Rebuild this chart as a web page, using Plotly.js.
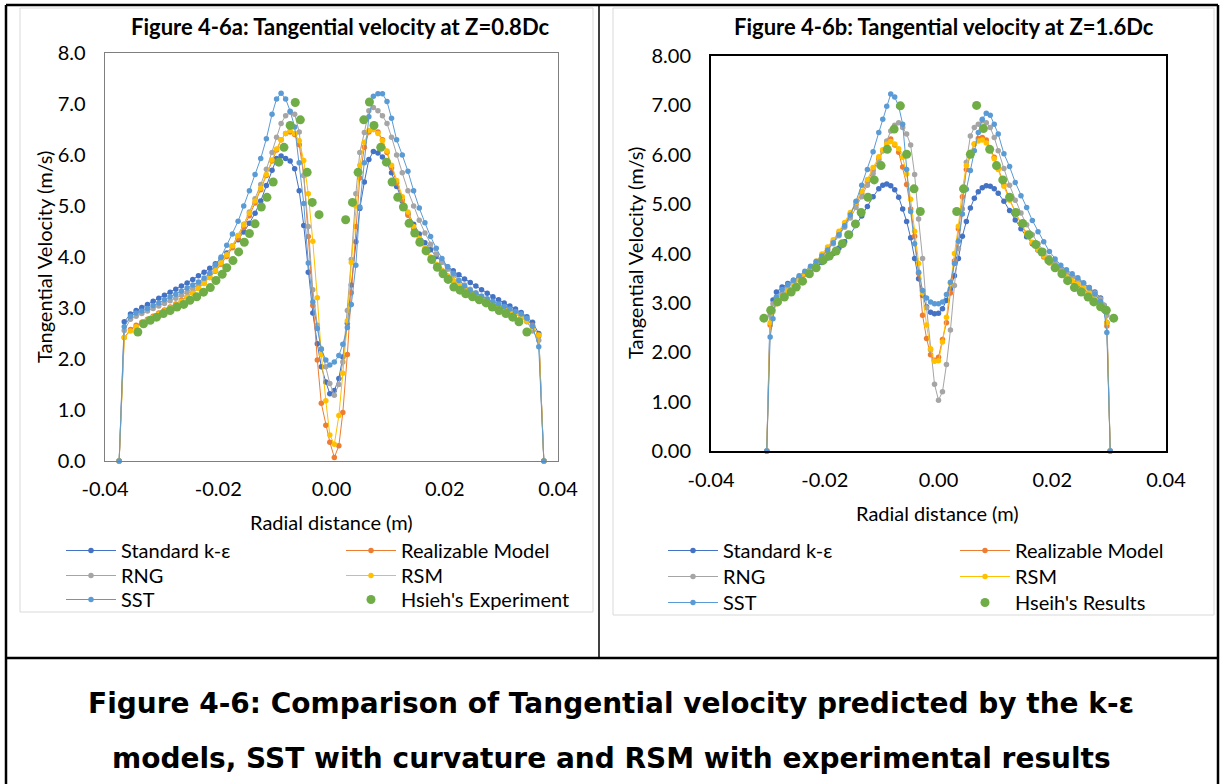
<!DOCTYPE html>
<html><head><meta charset="utf-8">
<script src="https://cdn.plot.ly/plotly-3.0.1.min.js"></script>
<style>html,body{margin:0;padding:0;background:#fff;}#chart{width:1221px;height:784px;}</style>
</head><body><div id="chart"></div>
<script>
// ---------------- DATA ----------------
const xTickVals = [-0.04, -0.02, 0, 0.02, 0.04];
const xTickText = ["-0.04", "-0.02", "0.00", "0.02", "0.04"];
const yTickVals = [0, 1, 2, 3, 4, 5, 6, 7, 8];
const yTickTextA = ["0.0", "1.0", "2.0", "3.0", "4.0", "5.0", "6.0", "7.0", "8.0"];
const yTickTextB = ["0.00", "1.00", "2.00", "3.00", "4.00", "5.00", "6.00", "7.00", "8.00"];
const modelNames = ["Standard k-ε", "Realizable Model", "RNG", "RSM", "SST"];
const expNameA = "Hsieh's Experiment";
const expNameB = "Hseih's Results";
const titleA = "Figure 4-6a: Tangential velocity at Z=0.8Dc";
const titleB = "Figure 4-6b: Tangential velocity at Z=1.6Dc";
const xTitle = "Radial distance (m)";
const yTitle = "Tangential Velocity (m/s)";
const captionLine1 = "Figure 4-6: Comparison of Tangential velocity predicted by the k-ε";
const captionLine2 = "models, SST with curvature and RSM with experimental results";

// Chart a (Z = 0.8Dc) radial positions of the CFD samples
const xModelA = [
  -0.0375, -0.0366,
  -0.0355, -0.0345, -0.0335, -0.0325, -0.0315, -0.0305, -0.0295, -0.0285, -0.0275, -0.0265, -0.0255, -0.0245, -0.0235,
  -0.0225, -0.0215, -0.0205, -0.0195, -0.0185, -0.0175, -0.0165, -0.0155, -0.0145, -0.0135, -0.0125, -0.0115, -0.0105,
  -0.0097, -0.0089, -0.0081, -0.0073, -0.0065, -0.0057, -0.0049, -0.0041, -0.0033, -0.0025, -0.0018, -0.0010, -0.0003,
  0.0005, 0.0013, 0.0020, 0.0028, 0.0035, 0.0043, 0.0050, 0.0058, 0.0066, 0.0074, 0.0082, 0.0090, 0.0098, 0.0106,
  0.0115, 0.0125, 0.0135, 0.0145, 0.0155, 0.0165, 0.0175, 0.0185, 0.0195, 0.0205, 0.0215, 0.0225, 0.0235, 0.0245, 0.0255,
  0.0265, 0.0275, 0.0285, 0.0295, 0.0305, 0.0315, 0.0325, 0.0335, 0.0345, 0.0355,
  0.0366, 0.0375
];
const stdA = [
  0, 2.73,
  2.88, 2.95, 3.01, 3.07, 3.13, 3.19, 3.25, 3.31, 3.37, 3.43, 3.49, 3.56, 3.63,
  3.70, 3.78, 3.87, 3.97, 4.08, 4.20, 4.34, 4.49, 4.66, 4.86, 5.10, 5.40, 5.70,
  5.93, 5.98, 5.93, 5.88, 5.73, 5.30, 4.62, 3.70, 2.90, 2.30, 1.85, 1.55, 1.32,
  1.38, 1.62, 2.04, 2.70, 3.45, 4.30, 4.95, 5.47, 5.91, 6.07, 6.04, 5.96, 5.85, 5.65,
  5.38, 5.10, 4.86, 4.64, 4.45, 4.28, 4.14, 4.01, 3.90, 3.81, 3.73, 3.65, 3.57, 3.50, 3.43,
  3.36, 3.29, 3.22, 3.16, 3.10, 3.04, 2.98, 2.91, 2.83, 2.72,
  2.50, 0
];
const realA = [
  0, 2.42,
  2.58, 2.66, 2.72, 2.78, 2.84, 2.90, 2.96, 3.02, 3.08, 3.15, 3.22, 3.30, 3.39,
  3.49, 3.60, 3.72, 3.86, 4.01, 4.18, 4.37, 4.58, 4.81, 5.06, 5.32, 5.60, 5.88,
  6.10, 6.30, 6.42, 6.45, 6.40, 6.20, 5.60, 4.40, 3.05, 1.98, 1.13, 0.70, 0.37,
  0.07, 0.30, 0.95, 2.09, 3.30, 4.60, 5.55, 6.15, 6.45, 6.50, 6.45, 6.30, 6.05, 5.75,
  5.45, 5.12, 4.82, 4.56, 4.34, 4.15, 3.99, 3.85, 3.73, 3.62, 3.53, 3.45, 3.38, 3.31, 3.25,
  3.19, 3.14, 3.09, 3.04, 3.00, 2.95, 2.90, 2.84, 2.77, 2.66,
  2.45, 0
];
const rngA = [
  0, 2.56,
  2.78, 2.84, 2.89, 2.94, 2.99, 3.04, 3.09, 3.14, 3.19, 3.25, 3.31, 3.38, 3.46,
  3.55, 3.65, 3.77, 3.90, 4.05, 4.22, 4.42, 4.64, 4.88, 5.14, 5.42, 5.72, 6.05,
  6.35, 6.62, 6.77, 6.84, 6.80, 6.45, 5.60, 4.60, 3.36, 2.66, 2.20, 1.85, 1.52,
  1.29, 1.50, 1.94, 2.95, 3.95, 5.24, 6.05, 6.44, 6.87, 6.93, 6.87, 6.77, 6.62, 6.35,
  6.00, 5.65, 5.30, 5.00, 4.72, 4.47, 4.25, 4.06, 3.90, 3.76, 3.64, 3.54, 3.45, 3.37, 3.30,
  3.23, 3.17, 3.11, 3.05, 3.00, 2.95, 2.89, 2.82, 2.73, 2.55,
  2.37, 0
];
const rsmA = [
  0, 2.42,
  2.55, 2.63, 2.70, 2.76, 2.82, 2.88, 2.94, 3.00, 3.06, 3.13, 3.21, 3.29, 3.38,
  3.48, 3.60, 3.73, 3.88, 4.04, 4.22, 4.42, 4.63, 4.86, 5.10, 5.35, 5.62, 5.90,
  6.12, 6.30, 6.42, 6.48, 6.42, 6.28, 5.89, 5.24, 4.31, 3.20, 2.09, 1.18, 0.51,
  0.33, 0.89, 1.72, 2.75, 3.89, 5.00, 5.80, 6.25, 6.48, 6.50, 6.42, 6.28, 6.08, 5.80,
  5.50, 5.18, 4.88, 4.60, 4.37, 4.17, 4.00, 3.86, 3.74, 3.63, 3.54, 3.46, 3.38, 3.31, 3.25,
  3.19, 3.13, 3.08, 3.03, 2.98, 2.93, 2.88, 2.82, 2.74, 2.62,
  2.47, 0
];
const sstA = [
  0, 2.63,
  2.84, 2.90, 2.94, 2.99, 3.05, 3.10, 3.16, 3.22, 3.27, 3.33, 3.39, 3.45, 3.51,
  3.59, 3.68, 3.85, 4.00, 4.23, 4.45, 4.70, 5.00, 5.30, 5.62, 5.93, 6.32, 6.80,
  7.10, 7.21, 7.10, 6.86, 6.55, 5.85, 5.05, 3.88, 3.12, 2.60, 2.19, 1.98, 1.88,
  1.94, 2.07, 2.29, 2.62, 3.07, 3.84, 4.98, 5.85, 6.75, 7.15, 7.20, 7.20, 7.05, 6.72,
  6.30, 6.00, 5.68, 5.30, 4.96, 4.67, 4.40, 4.17, 3.97, 3.81, 3.68, 3.54, 3.43, 3.35, 3.29,
  3.23, 3.18, 3.13, 3.08, 3.03, 2.98, 2.93, 2.88, 2.80, 2.64,
  2.24, 0
];
const xExpA = [
  -0.0342, -0.0332, -0.0320, -0.0309, -0.0297, -0.0285, -0.0273, -0.0261, -0.0250, -0.0238,
  -0.0226, -0.0214, -0.0204, -0.0193, -0.0185, -0.0174, -0.0164, -0.0154, -0.0145, -0.0135,
  -0.0124, -0.0114, -0.0103, -0.0093, -0.0084, -0.0073, -0.0064, -0.0055, -0.0043, -0.0034, -0.0022,
  0.0025, 0.0037, 0.0047, 0.0057, 0.0067, 0.0075, 0.0087, 0.0097, 0.0107, 0.0117,
  0.0127, 0.0137, 0.0147, 0.0156, 0.0167, 0.0177, 0.0187, 0.0197, 0.0206, 0.0216,
  0.0227, 0.0237, 0.0249, 0.0261, 0.0273, 0.0284, 0.0296, 0.0308, 0.0320, 0.0331, 0.0345
];
const expA = [
  2.53, 2.69, 2.76, 2.82, 2.89, 2.95, 3.02, 3.07, 3.15, 3.22,
  3.31, 3.40, 3.54, 3.66, 3.79, 3.93, 4.10, 4.29, 4.46, 4.65,
  4.98, 5.17, 5.47, 5.86, 6.15, 6.58, 7.03, 6.69, 5.66, 5.07, 4.83,
  4.73, 5.07, 5.66, 6.69, 7.04, 6.58, 6.15, 5.86, 5.47, 5.17,
  4.98, 4.66, 4.47, 4.29, 4.12, 3.95, 3.80, 3.67, 3.56, 3.41,
  3.35, 3.28, 3.22, 3.16, 3.10, 3.02, 2.95, 2.89, 2.82, 2.73, 2.53
];

// Chart b (Z = 1.6Dc)
const xModelB = [
  -0.0302, -0.0296, -0.0291,
  -0.0285, -0.0275, -0.0265, -0.0255, -0.0245, -0.0235, -0.0225, -0.0215, -0.0205, -0.0195,
  -0.0185, -0.0175, -0.0165, -0.0155, -0.0145, -0.0135, -0.0125, -0.0115, -0.0105,
  -0.0098, -0.0091, -0.0084, -0.0077, -0.0070, -0.0063, -0.0056, -0.0049, -0.0042, -0.0035,
  -0.0028, -0.0021, -0.0014, -0.0007, 0.0000, 0.0007, 0.0014, 0.0021, 0.0028, 0.0035,
  0.0042, 0.0049, 0.0056, 0.0063, 0.0070, 0.0077, 0.0084, 0.0091, 0.0098,
  0.0105, 0.0115, 0.0125, 0.0135, 0.0145, 0.0155, 0.0165, 0.0175, 0.0185, 0.0195,
  0.0205, 0.0215, 0.0225, 0.0235, 0.0245, 0.0255, 0.0265, 0.0275, 0.0285,
  0.0291, 0.0296, 0.0302
];
const stdB = [
  0, 2.85, 3.06,
  3.22, 3.32, 3.39, 3.46, 3.52, 3.59, 3.65, 3.72, 3.82, 3.91,
  4.00, 4.11, 4.24, 4.39, 4.57, 4.76, 4.95, 5.15, 5.31,
  5.38, 5.41, 5.37, 5.29, 5.14, 4.90, 4.65, 4.32, 3.90, 3.49,
  3.15, 2.92, 2.81, 2.78, 2.79, 2.88, 3.05, 3.28, 3.55, 3.90,
  4.35, 4.65, 4.92, 5.12, 5.25, 5.33, 5.37, 5.36, 5.31,
  5.22, 5.06, 4.87, 4.68, 4.50, 4.34, 4.20, 4.07, 3.95, 3.85,
  3.77, 3.69, 3.61, 3.53, 3.46, 3.39, 3.31, 3.22, 3.10,
  2.95, 2.60, 0
];
const realB = [
  0, 2.55, 2.85,
  3.00, 3.14, 3.25, 3.36, 3.47, 3.58, 3.70, 3.83, 3.96, 4.10,
  4.25, 4.42, 4.60, 4.80, 5.00, 5.22, 5.45, 5.68, 5.92,
  6.08, 6.25, 6.32, 6.20, 6.05, 5.75, 5.40, 4.90, 4.35, 3.60,
  2.75, 2.28, 1.95, 1.84, 1.90, 2.26, 2.60, 3.20, 3.85, 4.50,
  5.15, 5.70, 6.00, 6.22, 6.33, 6.35, 6.30, 6.12, 5.95,
  5.72, 5.40, 5.10, 4.84, 4.60, 4.40, 4.22, 4.07, 3.93, 3.81,
  3.70, 3.60, 3.51, 3.43, 3.35, 3.28, 3.20, 3.11, 3.00,
  2.85, 2.53, 0
];
const rngB = [
  0, 2.75, 2.98,
  3.10, 3.22, 3.32, 3.41, 3.50, 3.60, 3.70, 3.81, 3.93, 4.06,
  4.20, 4.36, 4.53, 4.72, 4.93, 5.15, 5.38, 5.62, 5.88,
  6.08, 6.28, 6.48, 6.60, 6.65, 6.55, 6.42, 6.20, 5.60, 4.70,
  3.90, 2.90, 2.05, 1.35, 1.03, 1.20, 1.75, 2.45, 3.35, 4.10,
  4.90, 5.85, 6.38, 6.55, 6.62, 6.69, 6.65, 6.55, 6.35,
  6.08, 5.72, 5.38, 5.08, 4.82, 4.58, 4.38, 4.20, 4.05, 3.92,
  3.80, 3.70, 3.61, 3.53, 3.46, 3.38, 3.30, 3.20, 3.08,
  2.95, 2.75, 0
];
const rsmB = [
  0, 2.60, 2.82,
  2.98, 3.12, 3.24, 3.35, 3.47, 3.59, 3.72, 3.85, 3.99, 4.13,
  4.28, 4.45, 4.63, 4.83, 5.04, 5.26, 5.50, 5.74, 5.96,
  6.10, 6.22, 6.27, 6.22, 6.12, 5.95, 5.61, 5.10, 4.45, 3.80,
  3.20, 2.55, 2.07, 1.82, 1.83, 2.21, 2.71, 3.40, 4.00, 4.55,
  5.30, 5.78, 6.05, 6.22, 6.28, 6.30, 6.24, 6.08, 5.92,
  5.70, 5.36, 5.08, 4.83, 4.61, 4.41, 4.23, 4.08, 3.95, 3.83,
  3.72, 3.62, 3.53, 3.45, 3.38, 3.30, 3.22, 3.13, 3.02,
  2.88, 2.60, 0
];
const sstB = [
  0, 2.31, 2.68,
  3.12, 3.27, 3.37, 3.46, 3.55, 3.64, 3.74, 3.84, 3.95, 4.07,
  4.22, 4.38, 4.56, 4.78, 5.06, 5.38, 5.70, 6.06, 6.45,
  6.72, 6.98, 7.23, 7.17, 6.98, 6.62, 5.70, 4.85, 4.20, 3.62,
  3.25, 3.10, 3.02, 2.98, 2.98, 3.02, 3.17, 3.42, 3.80, 4.25,
  4.80, 5.30, 5.68, 6.08, 6.45, 6.72, 6.84, 6.80, 6.62,
  6.42, 6.02, 5.76, 5.44, 5.17, 4.93, 4.67, 4.44, 4.24, 4.04,
  3.89, 3.76, 3.67, 3.59, 3.51, 3.41, 3.30, 3.18, 3.03,
  2.85, 2.40, 0
];
const xExpB = [
  -0.0307, -0.0295, -0.0283, -0.0271, -0.0259, -0.0250, -0.0239, -0.0227, -0.0215, -0.0203,
  -0.0192, -0.0180, -0.0169, -0.0158, -0.0146, -0.0136, -0.0124, -0.0113, -0.0101, -0.0090,
  -0.0078, -0.0067, -0.0056, -0.0043, -0.0032,
  0.0032, 0.0044, 0.0056, 0.0067, 0.0079, 0.0090, 0.0102, 0.0113, 0.0125, 0.0136,
  0.0148, 0.0159, 0.0171, 0.0182, 0.0194, 0.0205, 0.0217, 0.0227, 0.0239, 0.0251,
  0.0263, 0.0273, 0.0285, 0.0295, 0.0308
];
const expB = [
  2.69, 2.85, 3.02, 3.12, 3.22, 3.32, 3.44, 3.59, 3.71, 3.86,
  3.95, 4.05, 4.20, 4.38, 4.60, 4.83, 5.14, 5.49, 5.78, 6.11,
  6.52, 6.99, 6.01, 5.31, 4.85,
  4.85, 5.31, 6.01, 7.00, 6.53, 6.11, 5.78, 5.49, 5.14, 4.83,
  4.61, 4.38, 4.18, 4.03, 3.86, 3.71, 3.59, 3.45, 3.31, 3.22,
  3.12, 3.02, 2.92, 2.85, 2.69
];

// ---------------- DRAWING ----------------
const W = 1221, H = 784;
const FONT = 'Lato, "Open Sans", "DejaVu Sans", sans-serif';
const colors = ["#4472C4", "#ED7D31", "#A5A5A5", "#FFC000", "#5B9BD5"];
const expColor = "#70AD47";
const PX = v => v / W, PY = v => 1 - v / H;
const LEG_FS = 20;

function modelTraces(xs, ysList, xa, ya, legIds) {
  return ysList.map((ys, i) => ({
    type: "scatter", mode: "lines+markers", name: modelNames[i],
    x: xs, y: ys, xaxis: xa, yaxis: ya, legend: legIds[i],
    line: {color: colors[i], width: 1},
    marker: {color: colors[i], size: 5.5},
    cliponaxis: false, hoverinfo: "skip"
  }));
}
const legIdsA = ["legend", "legend2", "legend3", "legend4", "legend5", "legend6"];
const legIdsB = ["legend7", "legend8", "legend9", "legend10", "legend11", "legend12"];
const traces = [
  ...modelTraces(xModelA, [stdA, realA, rngA, rsmA, sstA], "x", "y", legIdsA),
  {type: "scatter", mode: "markers", name: expNameA, x: xExpA, y: expA, xaxis: "x", yaxis: "y",
   legend: legIdsA[5], marker: {color: expColor, size: 9}, cliponaxis: false, hoverinfo: "skip"},
  ...modelTraces(xModelB, [stdB, realB, rngB, rsmB, sstB], "x2", "y2", legIdsB),
  {type: "scatter", mode: "markers", name: expNameB, x: xExpB, y: expB, xaxis: "x2", yaxis: "y2",
   legend: legIdsB[5], marker: {color: expColor, size: 9}, cliponaxis: false, hoverinfo: "skip"}
];

const tickFont = {family: FONT, size: 20, color: "#000"};
function xAxis(x0, x1, anchor, lc, lw) {
  return {domain: [PX(x0), PX(x1)], range: [-0.04, 0.04], anchor, tickvals: xTickVals, ticktext: xTickText,
    showgrid: false, zeroline: false, showline: true, mirror: true, linecolor: lc, linewidth: lw,
    ticks: "", tickfont: tickFont, ticklabelstandoff: 10, fixedrange: true};
}
function yAxis(y0, y1, anchor, lc, lw, tt) {
  return {domain: [PY(y1), PY(y0)], range: [0, 8], anchor, tickvals: yTickVals, ticktext: tt,
    showgrid: false, zeroline: false, showline: true, mirror: true, linecolor: lc, linewidth: lw,
    ticks: "", tickfont: tickFont, ticklabelstandoff: 14, fixedrange: true};
}
// legend entry: x = left of the symbol box, rowY = vertical centre of the entry
function leg(x, rowY) {
  return {x: PX(x), xanchor: "left", y: PY(rowY - 19), yanchor: "top", orientation: "v",
    bgcolor: "rgba(0,0,0,0)", borderwidth: 0, itemwidth: 50, tracegroupgap: 0,
    font: {family: FONT, size: LEG_FS, color: "#000"}};
}
function ann(x, y, text, size, extra) {
  return Object.assign({xref: "paper", yref: "paper", x: PX(x), y: PY(y), text, showarrow: false,
    xanchor: "center", yanchor: "middle", font: {family: FONT, size, color: "#000"}}, extra || {});
}
function line(x0, y0, x1, y1, color, w) {
  return {type: "line", xref: "paper", yref: "paper", x0: PX(x0), y0: PY(y0), x1: PX(x1), y1: PY(y1),
    line: {color, width: w}, layer: "above"};
}
function rect(x0, y0, x1, y1, color, w) {
  return {type: "rect", xref: "paper", yref: "paper", x0: PX(x0), y0: PY(y0), x1: PX(x1), y1: PY(y1),
    line: {color, width: w}, fillcolor: "rgba(0,0,0,0)", layer: "below"};
}
const capFont = {family: '"DejaVu Sans", Verdana, sans-serif', size: 28, color: "#000"};

const layout = {
  width: W, height: H, margin: {l: 0, r: 0, t: 0, b: 0},
  paper_bgcolor: "#fff", plot_bgcolor: "#fff", showlegend: true,
  xaxis: xAxis(105, 558, "y", "#7f7f7f", 1.3),
  yaxis: yAxis(53, 461, "x", "#7f7f7f", 1.3, yTickTextA),
  xaxis2: xAxis(711, 1166, "y2", "#000", 2),
  yaxis2: yAxis(56, 451, "x2", "#000", 2, yTickTextB),
  legend: leg(61, 550), legend2: leg(341, 550),
  legend3: leg(61, 575), legend4: leg(341, 575),
  legend5: leg(61, 599), legend6: leg(341, 599),
  legend7: leg(663, 550), legend8: leg(955, 550),
  legend9: leg(663, 576), legend10: leg(955, 576),
  legend11: leg(663, 602), legend12: leg(955, 602),
  annotations: [
    ann(340, 27, "<b>" + titleA + "</b>", 22),
    ann(944, 27, "<b>" + titleB + "</b>", 22),
    ann(44, 257, yTitle, 20, {textangle: -90}),
    ann(635, 253, yTitle, 20, {textangle: -90}),
    ann(331, 522, xTitle, 20),
    ann(937, 513, xTitle, 20),
    ann(611, 703, "<b>" + captionLine1 + "</b>", 28, {font: capFont}),
    ann(611, 758, "<b>" + captionLine2 + "</b>", 28, {font: capFont})
  ],
  shapes: [
    rect(20, 8, 593, 612, "#d9d9d9", 1),
    rect(613, 8, 1214, 615, "#d9d9d9", 1),
    line(6, 5, 1218, 5, "#000", 2.5),
    line(6, 5, 6, 784, "#000", 2.5),
    line(1218, 5, 1218, 784, "#000", 2.5),
    line(599, 5, 599, 658, "#000", 1.5),
    line(6, 658, 1218, 658, "#000", 2.5)
  ]
};
Plotly.newPlot("chart", traces, layout, {displayModeBar: false, staticPlot: true});
</script></body></html>
